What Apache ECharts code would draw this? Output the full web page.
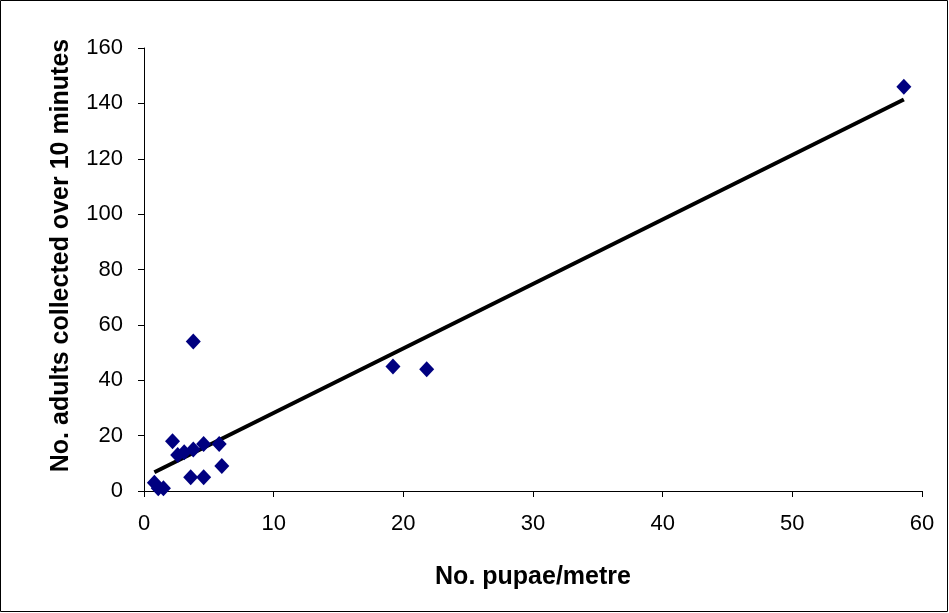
<!DOCTYPE html>
<html>
<head>
<meta charset="utf-8">
<script src="https://cdn.jsdelivr.net/npm/echarts@6/dist/echarts.min.js"></script>
<style>
  html, body { margin: 0; padding: 0; background: #fff; }
  #main { width: 949px; height: 613px; }
</style>
</head>
<body>
<div id="main"></div>
<script>
// pupae per metre vs adults collected
const pupae  = [0.8, 1.1, 1.5, 2.2, 2.6, 3.1, 3.6, 3.8, 3.8, 4.6, 4.6, 5.8, 6.0, 19.2, 21.8, 58.6];
const adults = [3, 1, 1, 18, 13, 14, 5, 15, 54, 17, 5, 17, 9, 45, 44, 146];
// fitted line ends
const trendX = [0.8, 58.6];
const trendY = [6.8, 141.4];

const xTicks = [0, 10, 20, 30, 40, 50, 60];
const yTicks = [0, 20, 40, 60, 80, 100, 120, 140, 160];

const chart = echarts.init(document.getElementById('main'));

const font = 'Liberation Sans, Arial, sans-serif';

chart.setOption({
  animation: false,
  grid: { left: 144, top: 48, width: 778, height: 443 },
  graphic: [{
    type: 'rect',
    shape: { x: 0.5, y: 0.5, width: 947, height: 611 },
    style: { fill: 'none', stroke: '#000', lineWidth: 1 }
  }],
  xAxis: {
    type: 'value',
    min: xTicks[0], max: xTicks[xTicks.length - 1], interval: 10,
    name: 'No. pupae/metre',
    nameLocation: 'middle',
    nameGap: 74,
    nameTextStyle: { fontFamily: font, fontSize: 25, fontWeight: 'bold', color: '#000' },
    axisLine: { lineStyle: { color: '#000', width: 1 } },
    axisTick: { show: true, length: 6, inside: false, lineStyle: { color: '#000' } },
    axisLabel: { fontFamily: font, fontSize: 22, color: '#000', margin: 22 },
    splitLine: { show: false }
  },
  yAxis: {
    type: 'value',
    min: yTicks[0], max: yTicks[yTicks.length - 1], interval: 20,
    name: 'No. adults collected over 10 minutes',
    nameLocation: 'middle',
    nameGap: 70,
    nameTextStyle: { fontFamily: font, fontSize: 25, fontWeight: 'bold', color: '#000', padding: [0, 0, 0, 28] },
    axisLine: { show: true, lineStyle: { color: '#000', width: 1 } },
    axisTick: { show: true, length: 6, inside: false, lineStyle: { color: '#000' } },
    axisLabel: { fontFamily: font, fontSize: 22, color: '#000', margin: 21 },
    splitLine: { show: false }
  },
  series: [
    {
      type: 'line',
      data: trendX.map((x, i) => [x, trendY[i]]),
      symbol: 'none',
      lineStyle: { color: '#000', width: 4 },
      z: 2
    },
    {
      type: 'scatter',
      data: pupae.map((x, i) => [x, adults[i]]),
      symbol: 'diamond',
      symbolSize: [15, 16],
      itemStyle: { color: '#000080', opacity: 1 },
      z: 3
    }
  ]
});
</script>
</body>
</html>
